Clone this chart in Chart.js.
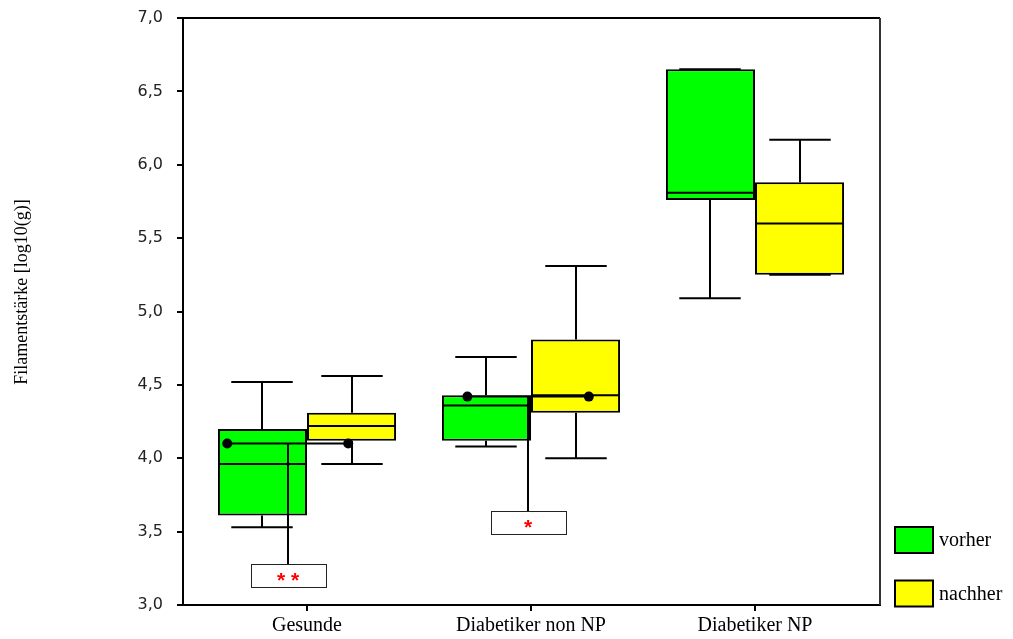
<!DOCTYPE html>
<html>
<head>
<meta charset="utf-8">
<script src="https://cdn.jsdelivr.net/npm/chart.js@4/dist/chart.umd.min.js"></script>
<style>
  html, body { margin: 0; padding: 0; background: #fff; }
  #wrap { width: 1013px; height: 639px; position: relative; }
</style>
</head>
<body>
<div id="wrap"><canvas id="c" width="1013" height="639"></canvas></div>
<script>
// Groups along the x axis and the two measurement series
const categories = ['Gesunde', 'Diabetiker non NP', 'Diabetiker NP'];
const seriesNames = ['vorher', 'nachher'];
const seriesColors = ['#00ff00', '#ffff00'];

// Box-plot summaries per group (log10 g)
const vorherMin    = [3.53, 4.08, 5.09];
const vorherQ1     = [3.61, 4.12, 5.76];
const vorherMedian = [3.96, 4.36, 5.81];
const vorherQ3     = [4.20, 4.43, 6.65];
const vorherMax    = [4.52, 4.69, 6.65];

const nachherMin    = [3.96, 4.00, 5.25];
const nachherQ1     = [4.12, 4.31, 5.25];
const nachherMedian = [4.22, 4.43, 5.60];
const nachherQ3     = [4.31, 4.81, 5.88];
const nachherMax    = [4.56, 5.31, 6.17];

// Y axis tick values
const yTicks = [3.0, 3.5, 4.0, 4.5, 5.0, 5.5, 6.0, 6.5, 7.0];

// Paired comparison markers (x in group-index units) and significance tags
const pairLeftX  = [-0.356, 0.716];
const pairRightX = [0.184, 1.258];
const pairValue  = [4.10, 4.42];
const sigX       = [-0.085, 0.988];
const sigEnd     = [3.28, 3.64];
const sigLabel   = ['* *', '*'];

const boxStats = [
  { min: vorherMin, q1: vorherQ1, med: vorherMedian, q3: vorherQ3, max: vorherMax },
  { min: nachherMin, q1: nachherQ1, med: nachherMedian, q3: nachherQ3, max: nachherMax }
];

const boxDatasets = seriesNames.map((name, s) => ({
  type: 'bar',
  label: name,
  data: categories.map((c, i) => ({ x: i, y: [boxStats[s].q1[i], boxStats[s].q3[i]] })),
  backgroundColor: seriesColors[s],
  borderColor: '#000',
  borderWidth: 2,
  borderSkipped: false,
  categoryPercentage: 0.795,
  barPercentage: 1.0,
  order: 2
}));

const pairDatasets = pairValue.map((v, k) => ({
  type: 'line',
  label: 'pair' + k,
  data: [{ x: pairLeftX[k], y: v }, { x: pairRightX[k], y: v }],
  borderColor: '#000',
  borderWidth: 2,
  pointRadius: 5,
  pointBackgroundColor: '#000',
  pointBorderWidth: 0,
  fill: false,
  order: 0
}));

const boxPlugin = {
  id: 'boxDetails',
  afterDatasetDraw(chart, args) {
    const st = boxStats[args.index];
    if (!st) return;
    const ctx = chart.ctx;
    const y = chart.scales.y;
    ctx.save();
    ctx.strokeStyle = '#000';
    ctx.lineWidth = 2;
    args.meta.data.forEach((bar, i) => {
      const p = bar.getProps(['x', 'width'], true);
      const cx = Math.round(p.x);
      const half = p.width / 2;
      const cap = p.width * 0.345;
      const yMin = y.getPixelForValue(st.min[i]);
      const yQ1 = y.getPixelForValue(st.q1[i]);
      const yMed = y.getPixelForValue(st.med[i]);
      const yQ3 = y.getPixelForValue(st.q3[i]);
      const yMax = y.getPixelForValue(st.max[i]);
      ctx.beginPath();
      // upper whisker
      ctx.moveTo(cx, yQ3); ctx.lineTo(cx, yMax);
      ctx.moveTo(cx - cap, yMax); ctx.lineTo(cx + cap, yMax);
      // lower whisker
      ctx.moveTo(cx, yQ1); ctx.lineTo(cx, yMin);
      ctx.moveTo(cx - cap, yMin); ctx.lineTo(cx + cap, yMin);
      // median
      ctx.moveTo(p.x - half, yMed); ctx.lineTo(p.x + half, yMed);
      ctx.stroke();
    });
    ctx.restore();
  },
  afterDatasetsDraw(chart) {
    const ctx = chart.ctx;
    const x = chart.scales.x, y = chart.scales.y;
    ctx.save();
    sigLabel.forEach((lab, k) => {
      const px = Math.round(x.getPixelForValue(sigX[k]));
      const top = y.getPixelForValue(pairValue[k]);
      const bottom = y.getPixelForValue(sigEnd[k]);
      ctx.strokeStyle = '#000';
      ctx.lineWidth = 2;
      ctx.beginPath();
      ctx.moveTo(px, top); ctx.lineTo(px, bottom);
      ctx.stroke();
      const w = 75, h = 23;
      const bx = Math.round(px - w / 2) + 0.5, by = Math.round(bottom) + 0.5;
      ctx.fillStyle = '#fff';
      ctx.fillRect(bx, by, w, h);
      ctx.strokeStyle = '#222';
      ctx.lineWidth = 1;
      ctx.strokeRect(bx, by, w, h);
      ctx.fillStyle = '#ff0000';
      ctx.font = 'bold 21px "Liberation Sans"';
      ctx.textAlign = 'center';
      ctx.textBaseline = 'alphabetic';
      const m = ctx.measureText(lab);
      const asc = m.actualBoundingBoxAscent, desc = m.actualBoundingBoxDescent;
      ctx.fillText(lab, px, by + h / 2 + (asc - desc) / 2 + 1);
    });
    ctx.restore();
  },
  afterDraw(chart) {
    const ctx = chart.ctx;
    const a = chart.chartArea;
    ctx.save();
    // frame top and right
    ctx.strokeStyle = '#000';
    ctx.lineWidth = 2;
    ctx.beginPath();
    ctx.moveTo(a.left, a.top); ctx.lineTo(a.right, a.top);
    ctx.stroke();
    ctx.strokeStyle = '#333';
    ctx.beginPath();
    ctx.moveTo(a.right, a.top); ctx.lineTo(a.right, a.bottom);
    ctx.stroke();

    // axis title
    ctx.fillStyle = '#000';
    ctx.font = '18px "Liberation Serif"';
    ctx.textAlign = 'center';
    ctx.textBaseline = 'middle';
    ctx.translate(22, 292);
    ctx.rotate(-Math.PI / 2);
    ctx.fillText('Filamentstärke [log10(g)]', 0, 0);
    ctx.setTransform(1, 0, 0, 1, 0, 0);

    // legend
    seriesNames.forEach((name, s) => {
      const lx = 895, ly = 527 + s * 53.5;
      ctx.fillStyle = seriesColors[s];
      ctx.fillRect(lx, ly, 38, 26);
      ctx.strokeStyle = '#000';
      ctx.lineWidth = 2;
      ctx.strokeRect(lx, ly, 38, 26);
      ctx.fillStyle = '#000';
      ctx.font = '20px "Liberation Serif"';
      ctx.textAlign = 'left';
      ctx.textBaseline = 'middle';
      ctx.fillText(name, 939, ly + 14);
    });
    ctx.restore();
  }
};

new Chart(document.getElementById('c'), {
  type: 'bar',
  data: { datasets: [...boxDatasets, ...pairDatasets] },
  options: {
    responsive: false,
    animation: false,
    events: [],
    layout: { padding: { top: 18, right: 133, left: 0, bottom: 0 } },
    plugins: { legend: { display: false }, tooltip: { enabled: false } },
    scales: {
      x: {
        type: 'linear',
        min: -0.5536,
        max: 2.558,
        offset: false,
        afterBuildTicks: s => { s.ticks = categories.map((c, i) => ({ value: i })); },
        afterFit: s => { s.height = 34; s.paddingLeft = 0; s.paddingRight = 0; },
        ticks: {
          callback: v => categories[v],
          font: { family: 'Liberation Serif', size: 20 },
          color: '#000',
          padding: 3,
          maxRotation: 0,
          autoSkip: false
        },
        grid: { drawOnChartArea: false, offset: false, tickLength: 6, color: '#000', lineWidth: 2 },
        border: { color: '#000', width: 2 }
      },
      y: {
        type: 'linear',
        min: 3,
        max: 7,
        afterBuildTicks: s => { s.ticks = yTicks.map(v => ({ value: v })); },
        afterFit: s => { s.width = 183; s.paddingTop = 0; s.paddingBottom = 0; },
        ticks: {
          callback: v => v.toFixed(1).replace('.', ','),
          font: { family: 'DejaVu Sans', size: 16 },
          color: '#222',
          padding: 14
        },
        grid: { drawOnChartArea: false, tickLength: 6, color: '#000', lineWidth: 2 },
        border: { color: '#000', width: 2 }
      }
    }
  },
  plugins: [boxPlugin]
});
</script>
</body>
</html>
